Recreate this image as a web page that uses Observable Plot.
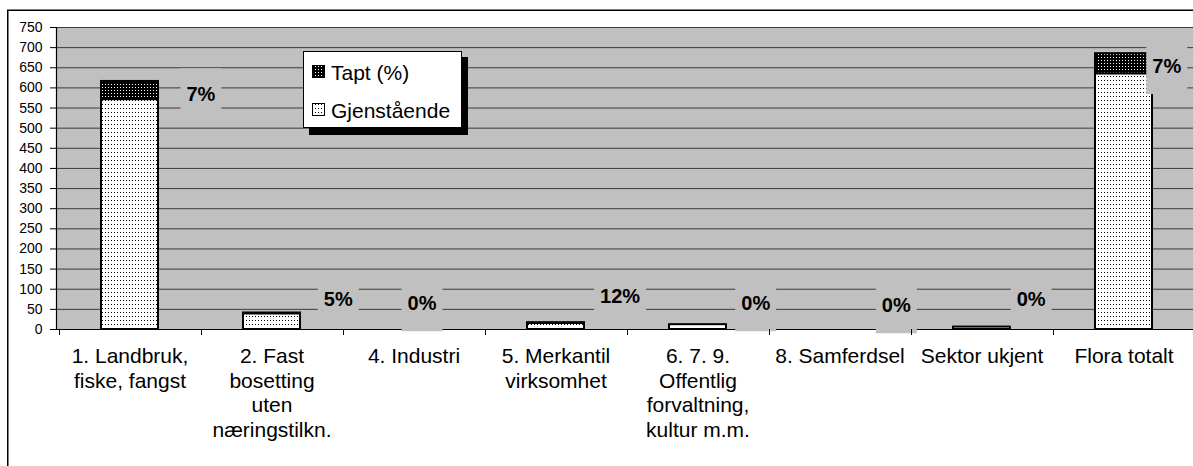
<!DOCTYPE html>
<html><head><meta charset="utf-8">
<script src="https://cdn.jsdelivr.net/npm/d3@7"></script>
<script src="https://cdn.jsdelivr.net/npm/@observablehq/plot@0.6"></script>
<style>
html,body{margin:0;padding:0;background:#fff;overflow:hidden}
#chart svg{display:block}
</style></head><body><div id="chart"></div>
<script>
// ---- data ----
const categories = [
  "1. Landbruk, fiske, fangst",
  "2. Fast bosetting uten næringstilkn.",
  "4. Industri",
  "5. Merkantil virksomhet",
  "6. 7. 9. Offentlig forvaltning, kultur m.m.",
  "8. Samferdsel",
  "Sektor ukjent",
  "Flora totalt"
];
const tickLabels = [
  "1. Landbruk,\nfiske, fangst",
  "2. Fast\nbosetting\nuten\nnæringstilkn.",
  "4. Industri",
  "5. Merkantil\nvirksomhet",
  "6. 7. 9.\nOffentlig\nforvaltning,\nkultur m.m.",
  "8. Samferdsel",
  "Sektor ukjent",
  "Flora totalt"
];
const seriesNames = ["Gjenstående", "Tapt (%)"];
const remaining = [571, 39, 0, 15, 12, 0, 6, 635];
const lost      = [45, 2, 0, 2, 0, 0, 0, 50];
const lostPct   = ["7%", "5%", "0%", "12%", "0%", "0%", "0%", "7%"];
const yTicks = [0, 50, 100, 150, 200, 250, 300, 350, 400, 450, 500, 550, 600, 650, 700, 750];

// ---- layout of the percentage labels (value-axis anchor, shift in band steps) ----
const pctAnchor = [583, 74, 64, 82, 64, 59, 74, 653];
const pctShift  = [0.503, 0.47, 0.06, 0.455, 0.41, 0.40, 0.35, 0.305];

const rows = [];
categories.forEach((c, i) => {
  if (remaining[i] > 0) rows.push({cat: c, series: seriesNames[0], value: remaining[i]});
  if (lost[i] > 0) rows.push({cat: c, series: seriesNames[1], value: lost[i]});
});

const FONT = "'Liberation Sans', Arial, Helvetica, sans-serif";
const ctx = document.createElement("canvas").getContext("2d");

function defsMark() {
  const defs = d3.create("svg:defs");
  const l = defs.append("pattern").attr("id", "pat-light").attr("width", 3).attr("height", 4).attr("patternUnits", "userSpaceOnUse");
  l.append("rect").attr("width", 3).attr("height", 4).attr("fill", "#fff");
  l.append("rect").attr("width", 1).attr("height", 1).attr("fill", "#000");
  const d = defs.append("pattern").attr("id", "pat-dark").attr("width", 3).attr("height", 3).attr("patternUnits", "userSpaceOnUse");
  d.append("rect").attr("width", 3).attr("height", 3).attr("fill", "#000");
  d.append("rect").attr("width", 1).attr("height", 1).attr("fill", "#fff");
  return defs.node();
}

function bandInfo(x) {
  const dom = x.domain();
  const step = x.step ? x.step() : (x(dom[1]) - x(dom[0]));
  const bw = x.bandwidth ? x.bandwidth() : step * 0.4;
  return {dom, step, bw};
}

function pctLabelsMark(index, scales) {
  const x = scales.x, y = scales.y;
  const {step, bw} = bandInfo(x);
  const g = d3.create("svg:g");
  ctx.font = "bold 20px " + FONT;
  categories.forEach((c, i) => {
    const cx = x(c) + bw / 2 + pctShift[i] * step;
    const cy = y(pctAnchor[i]);
    const w = ctx.measureText(lostPct[i]).width;
    g.append("rect").attr("x", cx - w / 2 - 6).attr("y", cy - 26).attr("width", w + 12).attr("height", 54).attr("fill", "#c0c0c0");
    g.append("text").attr("x", cx).attr("y", cy).attr("dy", "0.36em").attr("text-anchor", "middle")
      .attr("font-family", FONT).attr("font-size", 20).attr("font-weight", "bold").attr("fill", "#000").text(lostPct[i]);
  });
  return g.node();
}

function axesLinesMark(index, scales, values, dims) {
  const x = scales.x, y = scales.y;
  const {dom, step, bw} = bandInfo(x);
  const g = d3.create("svg:g").attr("stroke", "#000").attr("fill", "none");
  const y0 = y(0);
  const start = x(dom[0]) - (step - bw) / 2;
  for (let i = 0; i <= dom.length; i++) {
    const xx = Math.round(start + i * step) + 0.5;
    g.append("line").attr("x1", xx).attr("x2", xx).attr("y1", y0).attr("y2", y0 + 6);
  }
  g.append("line").attr("x1", dims.marginLeft + 0.5).attr("x2", dims.marginLeft + 0.5)
    .attr("y1", y(yTicks[yTicks.length - 1])).attr("y2", y0 + 0.5).attr("stroke-width", 1.2);
  return g.node();
}

function legendMark() {
  const g = d3.create("svg:g").attr("text-anchor", "start");
  g.append("rect").attr("x", 309).attr("y", 57).attr("width", 159).attr("height", 78).attr("fill", "#000");
  g.append("rect").attr("x", 303.5).attr("y", 51.5).attr("width", 158).attr("height", 76).attr("fill", "#fff").attr("stroke", "#000");
  const items = [
    {name: seriesNames[1], fill: "url(#pat-dark)", y: 72},
    {name: seriesNames[0], fill: "url(#pat-light)", y: 110}
  ];
  items.forEach(it => {
    g.append("rect").attr("x", 312.5).attr("y", it.y - 6.5).attr("width", 12).attr("height", 12)
      .attr("fill", it.fill).attr("stroke", "#000");
    g.append("text").attr("x", 331).attr("y", it.y).attr("dy", "0.36em").attr("text-anchor", "start")
      .attr("font-family", FONT).attr("font-size", 21).attr("fill", "#000").text(it.name);
  });
  return g.node();
}

function borderMark() {
  const g = d3.create("svg:g").attr("stroke", "#000").attr("stroke-width", 1.5).attr("fill", "none");
  g.append("path").attr("d", "M7.75,466V10.25H1193");
  return g.node();
}

const chart = Plot.plot({
  width: 1193,
  height: 466,
  marginTop: 27,
  marginBottom: 137,
  marginLeft: 56,
  marginRight: 0,
  style: {fontFamily: FONT, background: "#fff", color: "#000"},
  x: {domain: categories, range: [56, 1197], paddingInner: 0.6, paddingOuter: 0.3, label: null},
  y: {domain: [0, 750], label: null},
  color: {type: "ordinal", domain: seriesNames, range: ["url(#pat-light)", "url(#pat-dark)"]},
  marks: [
    defsMark,
    Plot.frame({fill: "#c0c0c0", stroke: null}),
    Plot.gridY(yTicks.filter(d => d > 0), {stroke: "#3a3a3a", strokeOpacity: 1, strokeWidth: 1}),
    Plot.barY(rows, {x: "cat", y: "value", fill: "series", stroke: "#000", strokeWidth: 2}),
    Plot.ruleY([0], {stroke: "#000", strokeWidth: 1}),
    pctLabelsMark,
    Plot.axisY({ticks: yTicks, tickSize: 6, tickPadding: 8, fontSize: 14, label: null}),
    Plot.axisX({tickSize: 0, tickPadding: 16, fontSize: 21, lineHeight: 1.17, label: null,
      tickFormat: d => tickLabels[categories.indexOf(d)]}),
    axesLinesMark,
    legendMark,
    borderMark
  ]
});
document.getElementById("chart").appendChild(chart);
</script>
</body></html>
